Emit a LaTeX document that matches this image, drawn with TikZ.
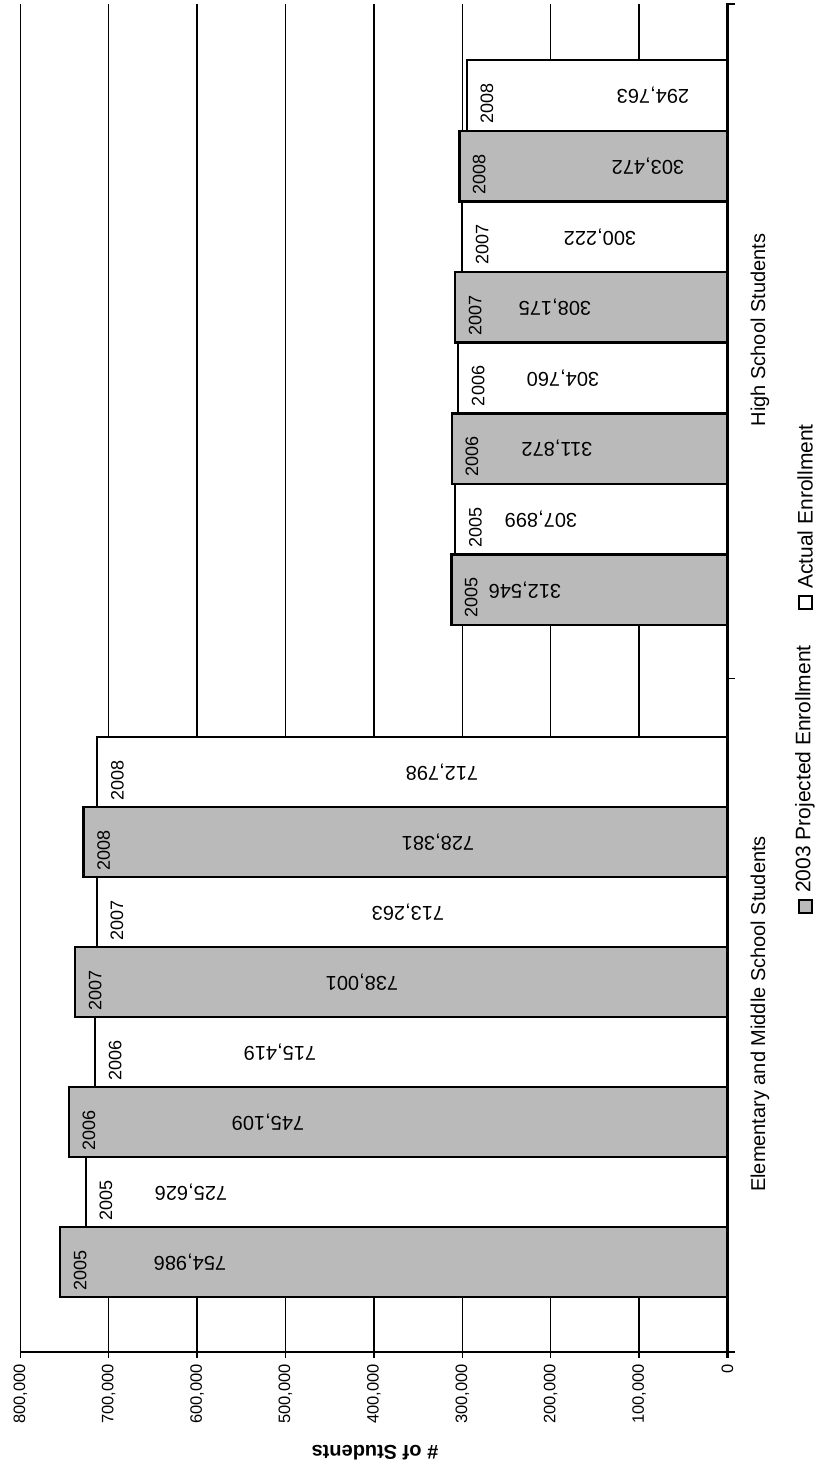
\documentclass[tikz,border=0pt]{standalone}
\usepackage{fontspec}
\setmainfont{Liberation Sans}
\begin{document}
\begin{tikzpicture}[x=1pt,y=-1pt,
  gridline/.style={line width=1.4pt, black},
  axisline/.style={line width=2.2pt, black},
  barbox/.style={draw=black, line join=miter},
  yearlbl/.style={rotate=90, anchor=west, inner sep=0pt, font=\fontsize{18}{18}\selectfont},
  vallbl/.style={rotate=180, inner sep=0pt, font=\fontsize{20}{20}\selectfont},
  ticklbl/.style={rotate=90, anchor=east, inner sep=0pt, font=\fontsize{16.5}{16.5}\selectfont},
  catlbl/.style={rotate=90, inner sep=0pt, font=\fontsize{20}{20}\selectfont},
  leglbl/.style={rotate=90, anchor=west, inner sep=0pt, font=\fontsize{21}{21}\selectfont},
  legsq/.style={draw=black, line width=2pt, minimum size=13pt, inner sep=0pt},
  axtitle/.style={rotate=180, inner sep=0pt, font=\fontsize{20}{20}\selectfont\bfseries}
]
\useasboundingbox (0,0) rectangle (817,1470);
\fill[white] (0,0) rectangle (817,1470);

% gridlines and value-axis ticks/labels
\foreach \k/\lab in {0/0,1/{100,000},2/{200,000},3/{300,000},4/{400,000},5/{500,000},6/{600,000},7/{700,000},8/{800,000}}{
  \pgfmathsetmacro{\gx}{727.5-88.4*\k}
  \ifnum\k>0
    \draw[gridline] (\gx,4) -- (\gx,1352);
  \fi
  \draw[line width=1.3pt] (\gx,1352) -- (\gx,1358);
  \node[ticklbl] (tick\k) at (\gx,1364) {\lab};
}

% Elementary and Middle School bars (bottom to top), values in thousands
\foreach \v/\t/\yr/\fc/\lw/\lx [count=\i from 0] in {
  754.986/{754,986}/2005/black!27/2.6/190,
  725.626/{725,626}/2005/white/2.0/191,
  745.109/{745,109}/2006/black!27/2.6/268,
  715.419/{715,419}/2006/white/2.0/280,
  738.001/{738,001}/2007/black!27/2.6/362,
  713.263/{713,263}/2007/white/2.0/408,
  728.381/{728,381}/2008/black!27/2.6/438,
  712.798/{712,798}/2008/white/2.0/442}{
  \pgfmathsetmacro{\bl}{727.5-\v*0.884}
  \pgfmathsetmacro{\bb}{1297-70*\i}
  \pgfmathsetmacro{\bt}{\bb-70}
  \pgfmathsetmacro{\bc}{\bb-35}
  \draw[barbox, fill=\fc, line width=\lw pt] (\bl,\bb) rectangle (727.5,\bt);
  \node[yearlbl] (eyr\i) at (\bl+20,\bb-6) {\yr};
  \node[vallbl] (eval\i) at (\lx,\bc) {\t};
}

% High School bars (bottom to top)
\foreach \v/\t/\yr/\fc/\lw/\lx [count=\i from 0] in {
  312.546/{312,546}/2005/black!27/2.6/525,
  307.899/{307,899}/2005/white/2.0/541,
  311.872/{311,872}/2006/black!27/2.6/557,
  304.760/{304,760}/2006/white/2.0/563,
  308.175/{308,175}/2007/black!27/2.6/555,
  300.222/{300,222}/2007/white/2.0/600,
  303.472/{303,472}/2008/black!27/2.6/648,
  294.763/{294,763}/2008/white/2.0/653}{
  \pgfmathsetmacro{\bl}{727.5-\v*0.884}
  \pgfmathsetmacro{\bb}{625-70.6*\i}
  \pgfmathsetmacro{\bt}{\bb-70.6}
  \pgfmathsetmacro{\bc}{\bb-35.3}
  \draw[barbox, fill=\fc, line width=\lw pt] (\bl,\bb) rectangle (727.5,\bt);
  \node[yearlbl] (hyr\i) at (\bl+20,\bb-7) {\yr};
  \node[vallbl] (hval\i) at (\lx,\bc) {\t};
}

% axes
\draw[line width=1.5pt] (20.3,1352) -- (735,1352);
\draw[axisline] (727.5,3) -- (727.5,1358);
\draw[line width=1.5pt] (727.5,4) -- (735,4);
\draw[line width=1.5pt] (727.5,678.5) -- (735,678.5);

% category labels
\node[catlbl] (catE) at (760,1014) {Elementary and Middle School Students};
\node[catlbl] (catH) at (760,330) {High School Students};

% legend
\node[legsq, fill=black!27] (legP) at (805,906) {};
\node[leglbl] (legPt) at (805,893) {2003 Projected Enrollment};
\node[legsq, fill=white] (legA) at (805,602) {};
\node[leglbl] (legAt) at (805,589) {Actual Enrollment};

% value axis title
\node[axtitle] (ytitle) at (375,1453) {\# of Students};
\end{tikzpicture}
\end{document}
